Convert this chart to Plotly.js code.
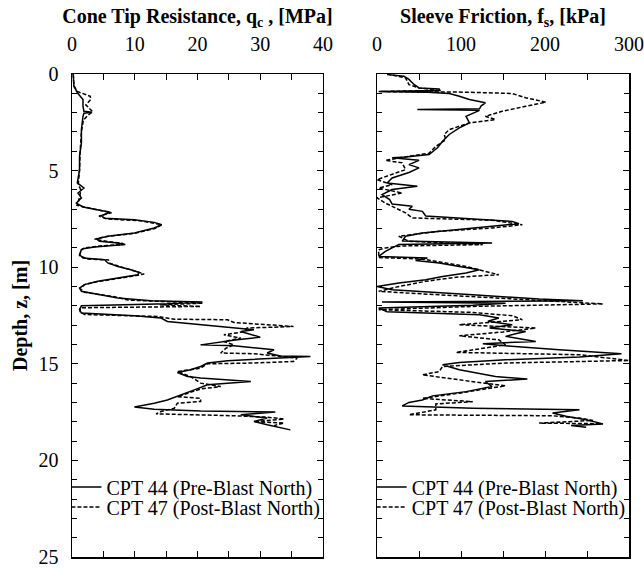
<!DOCTYPE html>
<html>
<head>
<meta charset="utf-8">
<script src="https://cdn.plot.ly/plotly-3.0.1.min.js"></script>
<style>
  html, body { margin: 0; padding: 0; background: #fff; }
  #chart { width: 644px; height: 568px; }
</style>
</head>
<body>
<div id="chart"></div>
<script>
// CPT 44 (pre-blast) cone tip resistance, qc [MPa] vs depth [m]
const qc44Depth = [0.00,0.63,1.01,1.32,1.67,1.93,1.98,2.03,2.19,2.88,3.57,4.26,4.95,5.64,5.90,6.16,6.41,6.68,6.88,7.02,7.16,7.33,7.47,7.54,7.68,7.80,7.97,8.23,8.40,8.54,8.66,8.75,8.83,8.95,9.04,9.10,9.35,9.52,9.61,9.78,9.96,10.13,10.27,10.39,10.56,10.73,10.90,11.08,11.25,11.42,11.60,11.74,11.80,11.89,12.00,12.20,12.37,12.51,12.63,12.81,12.98,13.15,13.24,13.33,13.50,13.62,13.76,14.02,14.07,14.27,14.44,14.59,14.62,14.76,14.84,14.96,15.14,15.31,15.45,15.66,15.74,15.92,16.09,16.35,16.61,16.87,17.04,17.24,17.35,17.44,17.49,17.64,17.81,17.99,18.16,18.42];
const qc44Value = [0.2,0.3,0.95,1.75,1.75,1.9,3.2,1.9,1.75,1.5,1.5,1.2,1.2,0.85,1.9,0.95,1.5,0.7,1.75,4.1,6.1,4.65,5.2,9.95,13.1,14.3,13.1,9.95,5.7,3.9,4.4,7.3,8.5,3.6,1.75,1.5,1.2,1.75,5.2,5.7,7.3,9.4,10.7,10.5,7.3,4.1,2.0,1.2,1.5,4.65,7.3,12.6,20.8,15.2,1.5,1.2,1.5,9.95,14.2,15.2,20.5,25.8,29.0,26.9,29.0,30.0,26.3,20.5,25.8,32.2,31.1,33.2,38.0,29.0,24.8,21.6,20.5,18.9,16.8,18.4,20.5,28.5,21.6,19.5,17.3,15.2,13.1,9.95,13.1,20.5,32.4,26.9,31.1,29.0,31.1,34.8];

// CPT 47 (post-blast) cone tip resistance
const qc47Depth = [0.00,0.60,0.90,1.15,1.32,1.60,1.95,2.15,2.40,3.00,4.00,5.00,5.70,6.00,6.40,6.80,7.00,7.18,7.35,7.50,7.60,7.80,8.00,8.25,8.42,8.55,8.68,8.76,8.82,8.90,9.00,9.10,9.40,9.58,9.62,9.80,9.96,10.15,10.35,10.45,10.56,10.75,10.90,11.10,11.30,11.45,11.53,11.70,11.86,11.95,12.03,12.10,12.30,12.45,12.55,12.69,12.72,12.86,13.07,13.15,13.35,13.50,13.67,13.85,14.02,14.20,14.44,14.48,14.70,14.88,14.96,15.00,15.23,15.40,15.66,16.00,16.18,16.30,16.52,16.70,16.79,16.95,17.04,17.30,17.47,17.59,17.69,17.76,17.86,17.99,18.07,18.20];
const qc47Value = [0.2,0.3,0.8,2.9,3.0,2.2,3.3,2.5,1.8,1.5,1.3,1.2,1.0,1.4,1.2,0.8,3.6,6.3,4.3,5.5,11.0,14.3,13.2,9.9,5.3,3.6,5.8,8.0,8.2,4.5,2.0,1.5,1.2,2.5,5.8,6.0,7.6,9.6,11.5,10.0,7.5,4.0,2.0,1.3,2.0,5.5,6.8,8.9,20.8,14.0,20.5,1.3,1.3,2.0,13.6,16.3,24.8,25.8,35.3,27.9,27.2,24.2,26.9,24.2,25.8,24.5,23.7,29.0,35.9,35.3,29.0,21.6,20.5,16.8,18.9,20.5,23.7,20.5,18.4,16.8,20.5,20.5,16.8,16.3,14.2,13.4,25.8,31.1,33.8,29.0,33.8,32.2];

// CPT 44 (pre-blast) sleeve friction, fs [kPa] vs depth [m]
const fs44Depth = [0.03,0.11,0.28,0.54,0.72,0.77,0.85,0.88,0.91,0.95,1.01,1.15,1.32,1.49,1.65,1.80,1.84,1.88,2.19,2.53,2.79,3.13,3.48,3.82,4.17,4.29,4.34,4.47,4.69,4.86,5.10,5.38,5.64,5.81,5.98,6.24,6.50,6.73,6.85,7.00,7.11,7.35,7.45,7.63,7.75,7.88,8.06,8.23,8.40,8.65,8.75,8.83,9.00,9.18,9.44,9.52,9.65,9.78,9.96,10.13,10.30,10.48,10.65,10.82,11.00,11.17,11.43,11.65,11.74,11.80,11.86,11.97,12.11,12.30,12.46,12.63,12.80,12.98,13.15,13.33,13.45,13.58,13.70,13.84,13.96,14.07,14.27,14.48,14.65,14.79,14.93,15.05,15.31,15.66,15.79,15.92,16.18,16.44,16.66,16.87,17.00,17.18,17.30,17.38,17.55,17.72,17.90,18.11,18.20,18.28];
const fs44Value = [12,32,38,44,50,74,75,40,4,60,86,98,110,129,124,122,48,122,106,110,98,86,78,72,62,34,18,50,38,50,38,18,12,48,18,6,15,18,42,38,54,58,98,161,169,137,94,54,34,30,137,26,18,10,2,60,46,74,98,122,106,78,58,26,0,18,114,193,245,6,153,114,2,12,122,145,132,161,134,177,165,153,170,189,126,153,217,291,241,153,98,78,98,141,179,129,137,106,66,54,38,30,114,241,209,225,249,269,231,249];

// CPT 47 (post-blast) sleeve friction
const fs47Depth = [0.00,0.20,0.55,0.72,0.85,0.91,0.94,1.01,1.23,1.46,1.67,1.93,2.19,2.36,2.53,2.88,3.13,3.40,3.74,4.10,4.29,4.47,4.60,4.95,5.10,5.30,5.47,5.73,5.90,6.16,6.41,6.68,6.93,7.19,7.45,7.57,7.80,7.97,8.14,8.40,8.66,8.83,8.90,9.00,9.10,9.50,9.58,9.96,10.27,10.39,10.52,10.73,11.00,11.25,11.43,11.70,11.90,12.03,12.20,12.34,12.51,12.72,12.98,13.15,13.35,13.55,13.76,14.02,14.41,14.53,14.83,14.96,15.14,15.40,15.57,15.83,16.00,16.14,16.35,16.52,16.79,16.96,17.08,17.38,17.64,17.69,17.81,17.93,18.07,18.10];
const fs47Value = [12,34,38,50,74,2,106,161,177,201,177,149,129,141,110,86,80,82,70,62,34,10,30,34,24,12,0,18,2,30,0,10,22,34,42,137,173,137,74,26,38,126,30,10,2,2,54,106,134,145,94,58,26,2,74,193,269,114,2,114,161,173,98,189,150,98,145,153,94,241,300,153,78,74,54,98,126,153,122,98,54,114,70,70,38,209,241,257,193,265];

const seriesNames = ['CPT 44 (Pre-Blast North)', 'CPT 47 (Post-Blast North)'];

const serif = 'Liberation Serif, Times New Roman, serif';
const solid = {color: '#000', width: 1.5};
const dashed = {color: '#000', width: 1.5, dash: '4px,2px'};

// each panel carries its own key; one legend box per entry keeps the rows tight
const traces = [
  {x: qc44Value, y: qc44Depth, xaxis: 'x', yaxis: 'y', mode: 'lines', line: solid, name: seriesNames[0], legend: 'legend'},
  {x: qc47Value, y: qc47Depth, xaxis: 'x', yaxis: 'y', mode: 'lines', line: dashed, name: seriesNames[1], legend: 'legend2'},
  {x: fs44Value, y: fs44Depth, xaxis: 'x2', yaxis: 'y2', mode: 'lines', line: solid, name: seriesNames[0], legend: 'legend3'},
  {x: fs47Value, y: fs47Depth, xaxis: 'x2', yaxis: 'y2', mode: 'lines', line: dashed, name: seriesNames[1], legend: 'legend4'}
];

const frame = {
  showline: true, linecolor: '#000', linewidth: 1.5, mirror: 'ticks',
  ticks: 'inside', ticklen: 6, tickwidth: 1, tickcolor: '#000',
  showgrid: false, zeroline: false, ticklabeloverflow: 'allow',
  tickfont: {family: serif, size: 20, color: '#000'}
};

const legendStyle = {
  font: {family: serif, size: 20, color: '#000'},
  bgcolor: 'rgba(0,0,0,0)', borderwidth: 0,
  xanchor: 'left', yanchor: 'top', tracegroupgap: 0
};

const rowTop = 0.1853, rowBottom = 0.1439;
const leftKeyX = -0.01, rightKeyX = 0.538;

const layout = {
  width: 644, height: 568,
  margin: {l: 72, r: 15, t: 74, b: 11},
  paper_bgcolor: '#fff', plot_bgcolor: '#fff',
  showlegend: true,
  xaxis: Object.assign({}, frame, {
    domain: [0, 0.4506], range: [0, 40], side: 'top', anchor: 'y',
    dtick: 10, ticklabelstandoff: 14,
    minor: {dtick: 5, ticks: 'inside', ticklen: 6, tickcolor: '#000', showgrid: false},
    title: {text: '<b>Cone Tip Resistance, q<sub>c</sub> , [MPa]</b>', font: {family: serif, size: 20, color: '#000'}, standoff: 3}
  }),
  yaxis: Object.assign({}, frame, {
    range: [25, 0], anchor: 'x', dtick: 5, ticklabelstandoff: 8,
    minor: {dtick: 1, ticks: 'inside', ticklen: 5, tickcolor: '#000', showgrid: false},
    title: {text: '<b>Depth, z, [m]</b>', font: {family: serif, size: 20, color: '#000'}, standoff: 5}
  }),
  xaxis2: Object.assign({}, frame, {
    domain: [0.5476, 1], range: [0, 300], side: 'top', anchor: 'y2',
    dtick: 100, ticklabelstandoff: 14,
    minor: {dtick: 50, ticks: 'inside', ticklen: 6, tickcolor: '#000', showgrid: false},
    title: {text: '<b>Sleeve Friction, f<sub>s</sub>, [kPa]</b>', font: {family: serif, size: 20, color: '#000'}, standoff: 3}
  }),
  yaxis2: Object.assign({}, frame, {
    range: [25, 0], anchor: 'x2', dtick: 5, showticklabels: false,
    minor: {dtick: 1, ticks: 'inside', ticklen: 5, tickcolor: '#000', showgrid: false}
  }),
  legend: Object.assign({}, legendStyle, {x: leftKeyX, y: rowTop}),
  legend2: Object.assign({}, legendStyle, {x: leftKeyX, y: rowBottom}),
  legend3: Object.assign({}, legendStyle, {x: rightKeyX, y: rowTop}),
  legend4: Object.assign({}, legendStyle, {x: rightKeyX, y: rowBottom})
};

Plotly.newPlot('chart', traces, layout, {staticPlot: true, displayModeBar: false});
</script>
</body>
</html>
